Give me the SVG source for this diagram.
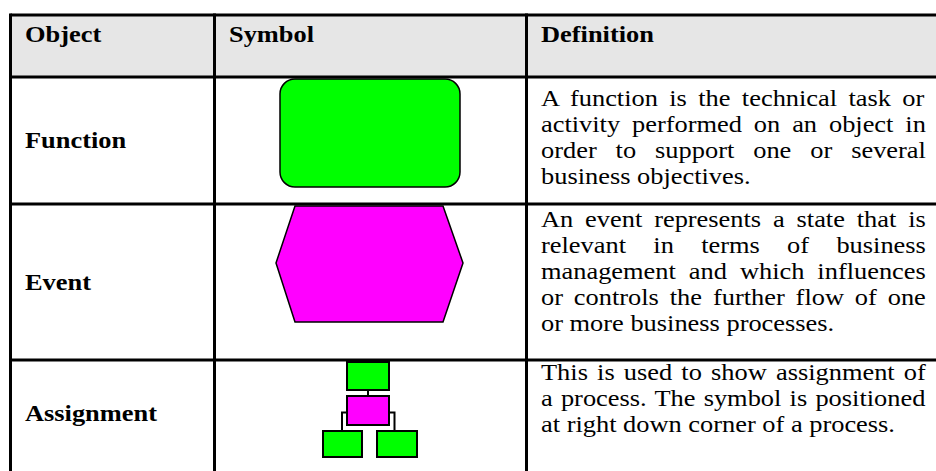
<svg xmlns="http://www.w3.org/2000/svg" width="936" height="471" viewBox="0 0 936 471">
  <style>
    .grid { stroke: #000; stroke-width: 3; fill: none; }
    .head { fill: #e6e6e6; }
    .th { font-weight: bold; font-size: 24px; fill: #000; }
    .td { font-size: 24px; fill: #000; }
    .fn { fill: #00ff00; stroke: #000; stroke-width: 1.5; }
    .ev { fill: #ff00ff; stroke: #000; stroke-width: 1.5; }
    .box-g { fill: #00ff00; stroke: #000; stroke-width: 2; }
    .box-m { fill: #ff00ff; stroke: #000; stroke-width: 2; }
    .link { fill: none; stroke: #000; stroke-width: 2; }
  </style>

  <rect width="936" height="471" fill="#fff"/>

  <!-- header band -->
  <rect class="head" x="10" y="15" width="926" height="62"/>

  <!-- table rules -->
  <g id="grid" class="grid">
    <line x1="10.5" y1="15" x2="936" y2="15"/>
    <line x1="10.5" y1="77" x2="936" y2="77"/>
    <line x1="10.5" y1="204" x2="936" y2="204"/>
    <line x1="10.5" y1="360" x2="936" y2="360"/>
    <line x1="10.5" y1="13.5" x2="10.5" y2="471"/>
    <line x1="214.5" y1="13.5" x2="214.5" y2="471"/>
    <line x1="526.5" y1="13.5" x2="526.5" y2="471"/>
  </g>

  <g font-family="Liberation Serif, serif">
  <!-- column headings -->
  <g id="header">
    <g transform="translate(25,0) scale(1.1,1)"><text class="th" x="0" y="42">Object</text></g>
    <g transform="translate(229,0) scale(1.1,1)"><text class="th" x="0" y="42">Symbol</text></g>
    <g transform="translate(541,0) scale(1.1,1)"><text class="th" x="0" y="42">Definition</text></g>
  </g>

  <!-- row: Function -->
  <g id="function">
    <g transform="translate(25,0) scale(1.1,1)"><text class="th" x="0" y="148">Function</text></g>
    <rect class="fn" x="280" y="79" width="180" height="108" rx="15" ry="15"/>
    <g transform="translate(541,0) scale(1.1,1)">
      <text class="td" x="0" y="106" word-spacing="4.34">A function is the technical task or</text>
      <text class="td" x="0" y="132" word-spacing="4.82">activity performed on an object in</text>
      <text class="td" x="0" y="158" word-spacing="11.22">order to support one or several</text>
      <text class="td" x="0" y="184">business objectives.</text>
    </g>
  </g>

  <!-- row: Event -->
  <g id="event">
    <g transform="translate(25,0) scale(1.1,1)"><text class="th" x="0" y="290">Event</text></g>
    <polygon class="ev" points="295,206 443,206 463,263 443,322 295,322 276,263"/>
    <g transform="translate(541,0) scale(1.1,1)">
      <text class="td" x="0" y="227" word-spacing="4.79">An event represents a state that is</text>
      <text class="td" x="0" y="253" word-spacing="18.84">relevant in terms of business</text>
      <text class="td" x="0" y="279" word-spacing="5.8">management and which influences</text>
      <text class="td" x="0" y="305" word-spacing="3.9">or controls the further flow of one</text>
      <text class="td" x="0" y="331">or more business processes.</text>
    </g>
  </g>

  <!-- row: Assignment -->
  <g id="assignment">
    <g transform="translate(25,0) scale(1.1,1)"><text class="th" x="0" y="421">Assignment</text></g>
    <g id="assignment-connectors">
      <line class="link" x1="368" y1="390" x2="368" y2="396"/>
      <polyline class="link" points="347,412.5 342,412.5 342,431"/>
      <polyline class="link" points="389,412.5 394.5,412.5 394.5,431"/>
    </g>
    <rect class="box-g" x="347" y="362" width="42" height="28"/>
    <rect class="box-m" x="347" y="396" width="42" height="29"/>
    <rect class="box-g" x="323" y="431" width="39" height="26"/>
    <rect class="box-g" x="377" y="431" width="40" height="26"/>
    <g transform="translate(541,0) scale(1.1,1)">
      <text class="td" x="0" y="380" word-spacing="2.33">This is used to show assignment of</text>
      <text class="td" x="0" y="406" word-spacing="1.47">a process. The symbol is positioned</text>
      <text class="td" x="0" y="432">at right down corner of a process.</text>
    </g>
  </g>
  </g>
</svg>
